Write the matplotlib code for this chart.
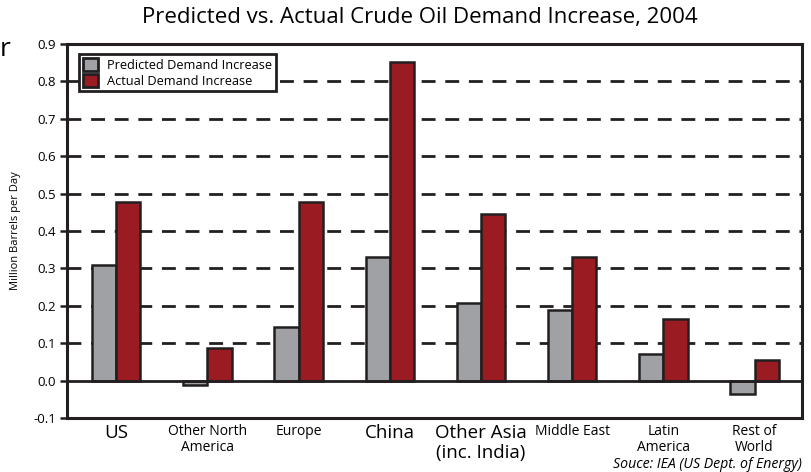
import matplotlib.pyplot as plt
import numpy as np

# data
regions = ["US", "Other North\nAmerica", "Europe", "China", "Other Asia\n(inc. India)",
           "Middle East", "Latin\nAmerica", "Rest of\nWorld"]
label_sizes = [13.5, 10, 10, 13.5, 13.5, 10, 10, 10]
predicted = [0.308, -0.012, 0.142, 0.330, 0.208, 0.190, 0.072, -0.035]
actual = [0.477, 0.088, 0.477, 0.853, 0.445, 0.330, 0.166, 0.054]
yticks = [-0.1, 0.0, 0.1, 0.2, 0.3, 0.4, 0.5, 0.6, 0.7, 0.8, 0.9]

plt.rcParams['font.family'] = ['Open Sans', 'DejaVu Sans']

GRAY = '#a0a1a5'
RED = '#9b1b22'
INK = '#231f20'

fig = plt.figure(figsize=(8.11, 4.72), dpi=100)
ax = fig.add_axes([67 / 811, 1 - 418 / 472, 735 / 811, 374 / 472])

x = np.arange(len(regions))
w = 0.265
ax.bar(x - w / 2, predicted, w, color=GRAY, edgecolor=INK, linewidth=1.8,
       label='Predicted Demand Increase', zorder=3)
ax.bar(x + w / 2, actual, w, color=RED, edgecolor=INK, linewidth=1.8,
       label='Actual Demand Increase', zorder=3)

# dashed grid + solid zero line
for v in yticks[2:-1]:
    ax.axhline(v, color=INK, linestyle=(0, (5, 3.5)), linewidth=2, zorder=1)
ax.axhline(0, color=INK, linewidth=2, zorder=4)

ax.set_xlim(-0.54, 7.52)
ax.set_ylim(-0.1, 0.9)
ax.set_yticks(yticks)
ax.set_yticklabels([f"{v:.1f}" for v in yticks], fontsize=9.5)
ax.tick_params(axis='y', direction='out', length=5, width=1.8, color=INK, pad=3)
ax.set_xticks(x)
ax.set_xticklabels(regions, linespacing=1.15)
for lbl, s in zip(ax.get_xticklabels(), label_sizes):
    lbl.set_fontsize(s)
ax.tick_params(axis='x', length=0, pad=4)
for sp in ax.spines.values():
    sp.set_linewidth(2.2)
    sp.set_color(INK)

ax.set_ylabel('Million Barrels per Day', fontsize=8, labelpad=9)

leg = ax.legend(loc='upper left', bbox_to_anchor=(0.016, 0.972), fontsize=9.2,
                fancybox=False, framealpha=1, edgecolor=INK,
                borderpad=0.3, handlelength=1.2, handleheight=1.2,
                handletextpad=0.7, labelspacing=0.12, borderaxespad=0)
leg.get_frame().set_linewidth(2)
for h in leg.legend_handles:
    h.set_linewidth(2)

fig.text(420 / 811, 1 - 18 / 472, 'Predicted vs. Actual Crude Oil Demand Increase, 2004',
         ha='center', va='center', fontsize=16)
fig.text(802 / 811, 1 - 464 / 472, 'Souce: IEA (US Dept. of Energy)', ha='right',
         va='center', fontsize=10.2, style='italic')
fig.text(0, 1 - 50 / 472, 'r', ha='left', va='center', fontsize=19)

fig.savefig('out.png', dpi=100)
